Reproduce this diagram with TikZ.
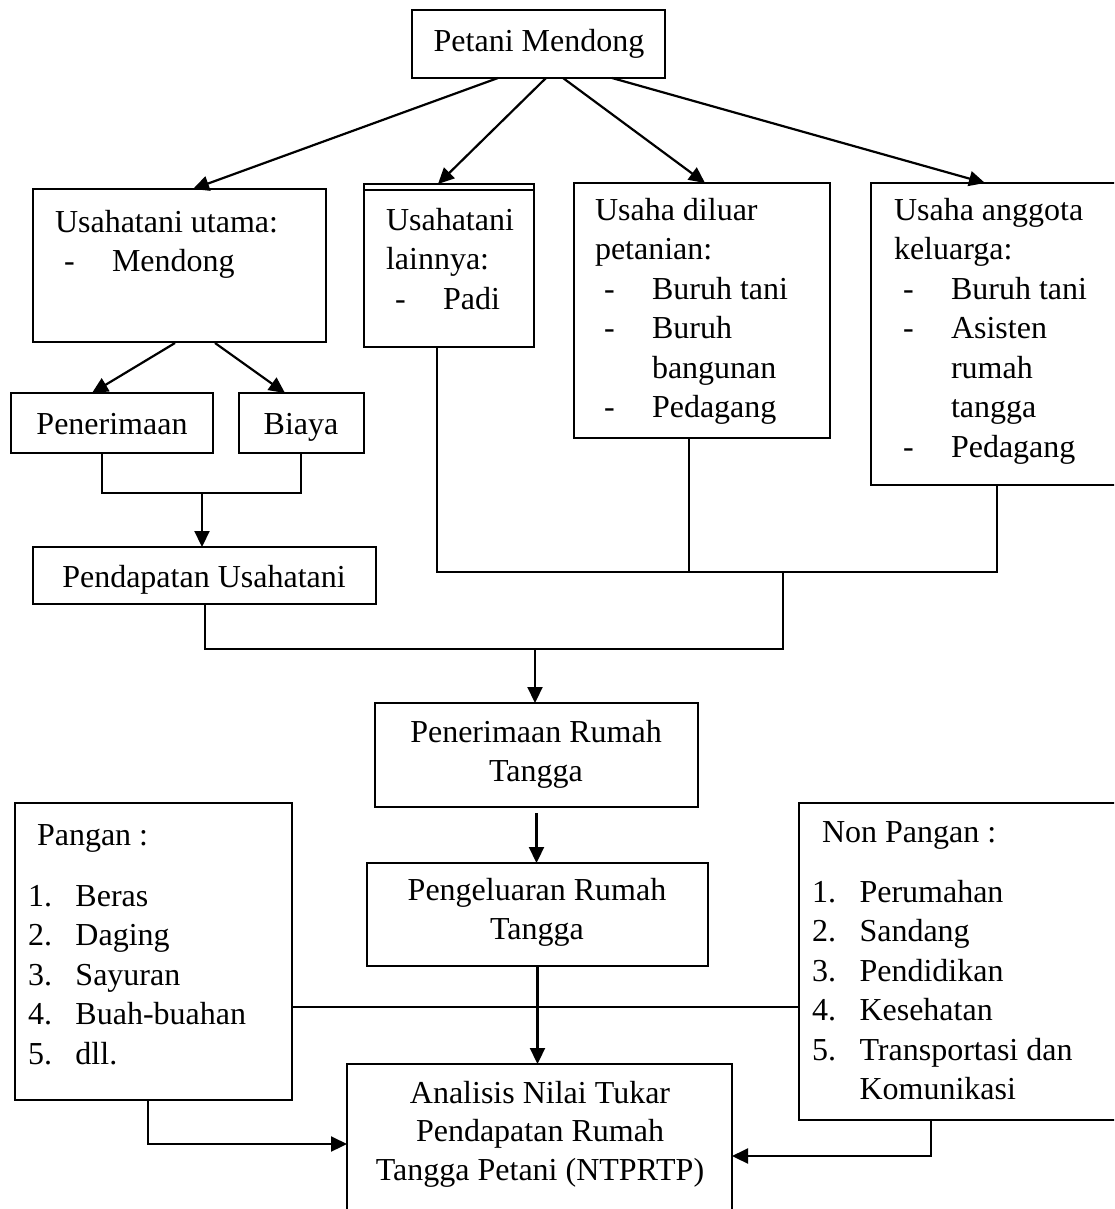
\documentclass[tikz,border=0pt]{standalone}
\usepackage{fontspec}
\setmainfont{Liberation Serif}
\usetikzlibrary{arrows.meta}
\newcommand\dashit[1]{\hspace*{9pt}\makebox[48pt][l]{-}#1}
\newcommand\contit[1]{\hspace*{57pt}#1}
\newcommand\numit[2]{\makebox[47.5pt][l]{#1}#2}
\begin{document}
\begin{tikzpicture}[x=1pt,y=-1pt,
  every node/.style={inner sep=0pt, outer sep=0pt},
  box/.style={draw, line width=2.2pt, anchor=north west},
  txt/.style={anchor=base west, font=\fontsize{32}{39.5}\selectfont},
  ctxt/.style={anchor=base, font=\fontsize{32}{39.5}\selectfont},
  arr/.style={line width=2.2pt, -{Triangle[length=16pt,width=15pt]}},
  conn/.style={line width=1.2pt}]
\useasboundingbox (0,0) rectangle (1114,1209);
\clip (0,0) rectangle (1114,1209);

% boxes
\node[box, minimum width=253pt, minimum height=68pt] (petani) at (412,10) {};
\node[box, minimum width=293pt, minimum height=153pt] (utama) at (33,189) {};
\node[box, minimum width=170pt, minimum height=163pt] (lainnya) at (364,184) {};
\node[box, minimum width=256pt, minimum height=255pt] (diluar) at (574,183) {};
\node[box, minimum width=262pt, minimum height=302pt] (anggota) at (871,183) {};
\node[box, minimum width=202pt, minimum height=60pt] (penerimaan) at (11,393) {};
\node[box, minimum width=125pt, minimum height=60pt] (biaya) at (239,393) {};
\node[box, minimum width=343pt, minimum height=57pt] (pendapatan) at (33,547) {};
\node[box, minimum width=323pt, minimum height=104pt] (prt) at (375,703) {};
\node[box, minimum width=341pt, minimum height=103pt] (pkrt) at (367,863) {};
\node[box, minimum width=385pt, minimum height=200pt] (analisis) at (347,1064) {};
\node[box, minimum width=277pt, minimum height=297pt] (pangan) at (15,803) {};
\node[box, minimum width=330pt, minimum height=317pt] (nonpangan) at (799,803) {};
\draw[line width=2.2pt] ([yshift=-6pt]lainnya.north west) -- ([yshift=-6pt]lainnya.north east);

% texts
\node[ctxt] (petaniT) at (539,52) {Petani Mendong};
\node[txt] (utamaT) at (55,232) {\parbox[t]{280pt}{Usahatani utama:\\\dashit{Mendong}}};
\node[txt] (lainnyaT) at (386,230) {\parbox[t]{150pt}{Usahatani\\lainnya:\\\dashit{Padi}}};
\node[txt] (diluarT) at (595,220) {\parbox[t]{240pt}{Usaha diluar\\petanian:\\\dashit{Buruh tani}\\\dashit{Buruh}\\\contit{bangunan}\\\dashit{Pedagang}}};
\node[txt] (anggotaT) at (894,220) {\parbox[t]{230pt}{Usaha anggota\\keluarga:\\\dashit{Buruh tani}\\\dashit{Asisten}\\\contit{rumah}\\\contit{tangga}\\\dashit{Pedagang}}};
\node[ctxt] (penerimaanT) at (112,434) {Penerimaan};
\node[ctxt] (biayaT) at (301,434) {Biaya};
\node[ctxt] (pendapatanT) at (204,587) {Pendapatan Usahatani};
\node[ctxt] (prtT) at (536,742) {\parbox[t]{320pt}{\centering Penerimaan Rumah\\Tangga}};
\node[ctxt] (pkrtT) at (537,900) {\parbox[t]{340pt}{\centering Pengeluaran Rumah\\Tangga}};
\node[ctxt] (analisisT) at (540,1103) {\parbox[t]{385pt}{\centering\baselineskip=38.5pt Analisis Nilai Tukar\\Pendapatan Rumah\\Tangga Petani (NTPRTP)}};
\node[txt] (panganH) at (37,845) {Pangan :};
\node[txt] (panganL) at (28,906) {\parbox[t]{260pt}{\numit{1.}{Beras}\\\numit{2.}{Daging}\\\numit{3.}{Sayuran}\\\numit{4.}{Buah-buahan}\\\numit{5.}{dll.}}};
\node[txt] (nonH) at (822,842) {Non Pangan :};
\node[txt] (nonL) at (812,902) {\parbox[t]{300pt}{\numit{1.}{Perumahan}\\\numit{2.}{Sandang}\\\numit{3.}{Pendidikan}\\\numit{4.}{Kesehatan}\\\numit{5.}{Transportasi dan}\\\hspace*{47.5pt}Komunikasi}};

% connectors from Petani Mendong
\draw[arr] ([xshift=86pt]petani.south west) -- ([xshift=160pt]utama.north west);
\draw[arr] ([xshift=134pt]petani.south west) -- ([xshift=74pt]lainnya.north west);
\draw[arr] ([xshift=151pt]petani.south west) -- ([xshift=131pt]diluar.north west);
\draw[arr] ([xshift=200pt]petani.south west) -- ([xshift=114pt]anggota.north west);

% utama -> penerimaan, biaya
\draw[arr] ([xshift=142pt,yshift=-1pt]utama.south west) -- ([xshift=81pt]penerimaan.north west);
\draw[arr] ([xshift=182pt,yshift=-1pt]utama.south west) -- ([xshift=46pt]biaya.north west);

% bracket -> pendapatan
\coordinate (b1) at (202,493);
\draw[conn] ([xshift=91pt]penerimaan.south west) |- (b1) -| ([xshift=62pt]biaya.south west);
\draw[arr] (b1) -- (b1 |- pendapatan.north);

% collector
\coordinate (cL) at (437,572);
\coordinate (cD) at (689,572);
\coordinate (cM) at (783,572);
\coordinate (cR) at (997,572);
\draw[conn] (lainnya.south -| cL) -- (cL) -- (cR) -- (anggota.south -| cR);
\draw[conn] (diluar.south -| cD) -- (cD);
\coordinate (cP) at (205,649);
\coordinate (cB) at (783,649);
\coordinate (c1) at (535,649);
\draw[conn] (pendapatan.south -| cP) -- (cP) -- (cB) -- (cM);
\draw[arr] (c1) -- (prt.north -| c1);
\draw[arr, shorten <=6pt] (prt.south) -- (prt.south |- pkrt.north);
\draw[arr] (pkrt.south) -- (pkrt.south |- analisis.north);

% pangan / non pangan
\coordinate (hl) at (540,1007);
\draw[conn] (pangan.east |- hl) -- (nonpangan.west |- hl);
\coordinate (pa) at (148,1144);
\draw[arr] (pangan.south -| pa) |- (analisis.west |- pa);
\coordinate (na) at (931,1156);
\draw[arr] (nonpangan.south -| na) |- (analisis.east |- na);
\end{tikzpicture}
\end{document}
